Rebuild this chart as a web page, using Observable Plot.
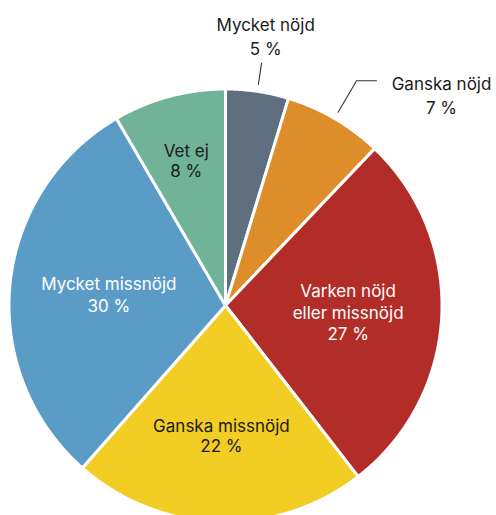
<!DOCTYPE html>
<html>
<head>
<meta charset="utf-8">
<script src="https://cdn.jsdelivr.net/npm/d3@7"></script>
<script src="https://cdn.jsdelivr.net/npm/@observablehq/plot@0.6"></script>
<style>
  html, body { margin: 0; padding: 0; background: white; }
</style>
</head>
<body>
<div id="chart"></div>
<script>
// Data
const categories = ["Mycket nöjd", "Ganska nöjd", "Varken nöjd eller missnöjd", "Ganska missnöjd", "Mycket missnöjd", "Vet ej"];
const values = [4.7, 7.4, 27.4, 22.0, 30.1, 8.4];
const labels = ["Mycket nöjd\n5 %", "Ganska nöjd\n7 %", "Varken nöjd\neller missnöjd\n27 %", "Ganska missnöjd\n22 %", "Mycket missnöjd\n30 %", "Vet ej\n8 %"];
const colors = ["#5f6f80", "#dd8e2a", "#b22d27", "#f2cd24", "#5b9cc6", "#71b399"];
const whiteText = ["Varken nöjd eller missnöjd", "Mycket missnöjd"];

// Layout
const W = 496, H = 515;
const PX = 215; // pixels per unit radius
const cx = 225, cy = 305;

const arcs = d3.pie().sort(null).value(d => d)(values);
const mid = a => (a.startAngle + a.endAngle) / 2;
const polar = (r, ang) => ({x: r * Math.sin(ang), y: r * Math.cos(ang)});

// slice polygons
const slicePts = [];
arcs.forEach((a, i) => {
  slicePts.push({cat: categories[i], ...polar(0, 0)});
  const n = Math.max(4, Math.ceil((a.endAngle - a.startAngle) / 0.005));
  for (let k = 0; k <= n; k++) {
    const ang = a.startAngle + (a.endAngle - a.startAngle) * k / n;
    slicePts.push({cat: categories[i], ...polar(1.007, ang)});
  }
});

// leader lines for the two small outside slices
const leaders = [];
{
  const m0 = mid(arcs[0]);
  leaders.push({id: 0, ...polar(1.04, m0)}, {id: 0, ...polar(1.14, m0)});
  const m1 = mid(arcs[1]);
  const e = polar(1.21, m1);
  leaders.push({id: 1, ...polar(1.04, m1)}, {id: 1, ...e}, {id: 1, x: e.x + 20 / PX, y: e.y});
}

// label positions
const labelR = [1.27, null, 0.571, 0.605, 0.545, 0.70];
const labelData = arcs.map((a, i) => {
  let p;
  if (i === 1) {
    const e = polar(1.21, mid(a));
    p = {x: e.x + 85 / PX, y: e.y - 13.4 / PX};
  } else {
    p = polar(labelR[i], mid(a));
  }
  return {cat: categories[i], label: labels[i], ...p, white: whiteText.includes(categories[i]), outside: i < 2};
});

const chart = Plot.plot({
  width: W,
  height: H,
  margin: 0,
  x: {domain: [-1, 1], range: [cx - PX, cx + PX], axis: null},
  y: {domain: [-1, 1], range: [cy + PX, cy - PX], axis: null},
  color: {domain: categories, range: colors},
  style: {fontFamily: "Inter, 'Noto Sans', sans-serif", fontSize: "17px", background: "white", overflow: "visible"},
  marks: [
    Plot.line(slicePts, {x: "x", y: "y", z: "cat", fill: "cat", stroke: "white", strokeWidth: 3, strokeLinejoin: "round", curve: "linear-closed"}),
    Plot.line(leaders, {x: "x", y: "y", z: "id", stroke: "#333", strokeWidth: 1.1}),
    Plot.text(labelData.filter(d => d.outside), {x: "x", y: "y", text: "label", fill: "#1a1a1a", fontSize: 17, lineHeight: 1.4}),
    Plot.text(labelData.filter(d => !d.outside && !d.white), {x: "x", y: "y", text: "label", fill: "#1a1a1a", fontSize: 17, lineHeight: 1.17}),
    Plot.text(labelData.filter(d => d.white), {x: "x", y: "y", text: "label", fill: "white", fontSize: 17, lineHeight: 1.27})
  ]
});
document.getElementById("chart").appendChild(chart);
</script>
</body>
</html>
